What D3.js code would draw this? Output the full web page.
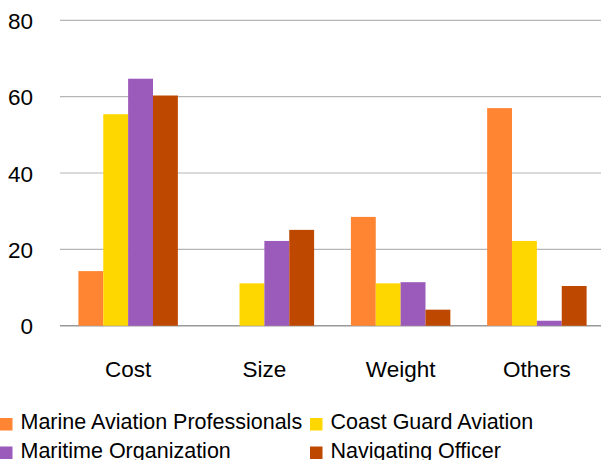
<!DOCTYPE html>
<html>
<head>
<meta charset="utf-8">
<script src="https://cdn.jsdelivr.net/npm/d3@7"></script>
<style>
  html, body { margin: 0; padding: 0; background: #fff; }
  svg { display: block; }
  text { font-family: "Liberation Sans", Arial, sans-serif; fill: #000; }
</style>
</head>
<body>
<svg id="chart" width="601" height="460"></svg>
<script>
const categories = ["Cost", "Size", "Weight", "Others"];
const seriesNames = ["Marine Aviation Professionals", "Coast Guard Aviation", "Maritime Organization", "Navigating Officer"];
const marineAviation = [14.3, 0, 28.5, 57.0];
const coastGuard = [55.4, 11.1, 11.1, 22.2];
const maritimeOrg = [64.7, 22.2, 11.4, 1.3];
const navigatingOfficer = [60.3, 25.1, 4.2, 10.4];
const yTicks = [0, 20, 40, 60, 80];
const colors = ["#ff8533", "#ffd700", "#9b5bbb", "#bf4800"];

const seriesValues = [marineAviation, coastGuard, maritimeOrg, navigatingOfficer];

const svg = d3.select("#chart");

const x0 = d3.scaleBand().domain(categories).range([60, 605]).paddingInner(0.27).paddingOuter(0.135);
const x1 = d3.scaleBand().domain(d3.range(seriesNames.length)).range([0, x0.bandwidth()]).padding(0);
const y = d3.scaleLinear().domain([0, 80]).range([325.7, 20.3]);

// gridlines
svg.append("g").selectAll("line").data(yTicks).join("line")
  .attr("x1", 60).attr("x2", 601)
  .attr("y1", d => y(d)).attr("y2", d => y(d))
  .attr("stroke", d => d === 0 ? "#999" : "#b5b5b5")
  .attr("stroke-width", d => d === 0 ? 1.5 : 1.2);

// y tick labels
svg.append("g").selectAll("text").data(yTicks).join("text")
  .attr("x", 33).attr("y", d => y(d) + 1)
  .attr("text-anchor", "end").attr("dominant-baseline", "central")
  .style("font-size", "22.5px")
  .text(d => d);

// bars
const groups = svg.append("g").selectAll("g").data(categories).join("g")
  .attr("transform", c => `translate(${x0(c)},0)`);
groups.selectAll("rect")
  .data((c, ci) => seriesValues.map((vals, si) => ({ si, v: vals[ci] })))
  .join("rect")
  .filter(d => d.v > 0)
  .attr("x", d => x1(d.si))
  .attr("width", x1.bandwidth())
  .attr("y", d => y(d.v))
  .attr("height", d => y(0) - y(d.v))
  .attr("fill", d => colors[d.si]);

// category labels
svg.append("g").selectAll("text").data(categories).join("text")
  .attr("x", c => x0(c) + x0.bandwidth() / 2)
  .attr("y", 376.5)
  .attr("text-anchor", "middle")
  .style("font-size", "22.5px")
  .text(c => c);

// legend
const legendPos = [[0, 429], [310, 429], [0, 457.5], [310, 457.5]];
const lg = svg.append("g").selectAll("g").data(seriesNames).join("g")
  .attr("transform", (d, i) => `translate(${legendPos[i][0]},${legendPos[i][1]})`);
lg.append("rect").attr("x", 0).attr("y", -11).attr("width", 12.5).attr("height", 12.5)
  .attr("fill", (d, i) => colors[i]);
lg.append("text").attr("x", 20.5).attr("y", 0)
  .style("font-size", "21.5px")
  .text(d => d);
</script>
</body>
</html>
